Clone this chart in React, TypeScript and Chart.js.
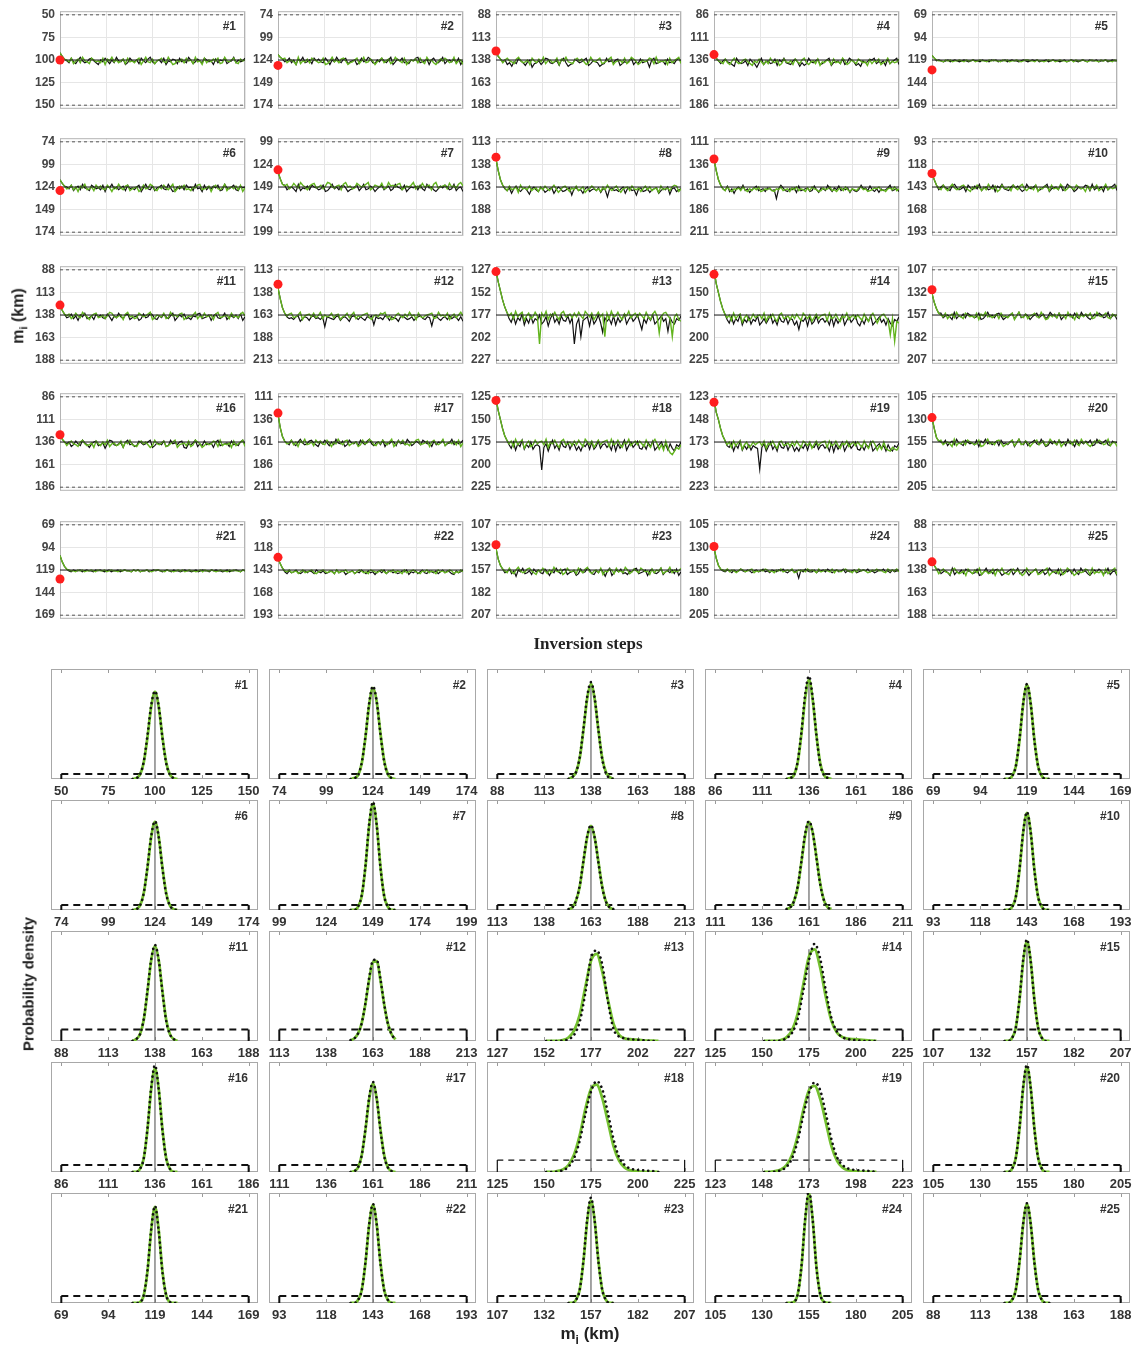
import React, { useEffect, useRef } from "react";
import { Chart, registerables } from "chart.js";

Chart.register(...registerables);

const SANS = "'Liberation Sans', Arial, sans-serif";
const SERIF = "'Liberation Serif', 'Times New Roman', serif";

// ---- model parameters (km) ----
const TRUE_DEPTH = [100, 124, 138, 136, 119, 124, 149, 163, 161, 143, 138, 163, 177, 175, 157, 136, 161, 175, 173, 155, 119, 143, 157, 155, 138];
const RANGE_LO = [50, 74, 88, 86, 69, 74, 99, 113, 111, 93, 88, 113, 127, 125, 107, 86, 111, 125, 123, 105, 69, 93, 107, 105, 88];
const RANGE_SPAN = 100;
const TICK_STEP = 25;
const INIT_DEPTH = [100, 130, 128, 130, 130, 128, 130, 130, 130, 128, 127, 129, 129, 130, 129, 128, 129, 129, 129, 128, 129, 129, 129, 129, 129];

// ---- chain traces ----
const BURN_IN: number[][] = [
  [92, 96, 99], [118, 121, 123], [130, 134, 137], [130, 134, 137], [114, 117],
  [116, 120, 123], [132, 140, 146], [132, 145, 155, 161], [130, 143, 153, 159], [128, 135, 141],
  [128, 133, 137], [133, 145, 155, 161], [128, 140, 150, 160, 168, 174], [125, 140, 150, 160, 168, 174], [133, 143, 150, 155],
  [128, 133, 136], [130, 145, 155, 160], [127, 140, 150, 160, 168, 173], [125, 140, 148, 158, 166, 171], [128, 140, 150, 154],
  [103, 110, 115, 118], [130, 136, 141], [133, 145, 152, 156], [130, 142, 150, 154], [128, 133, 137],
];
const MEAN_BLACK = [101, 125, 140, 138, 120, 125, 150, 165, 163, 144, 140, 165, 181, 180, 158, 138, 162, 178, 177, 156, 120, 145, 159, 156, 140];
const MEAN_GREEN = [101, 125, 139, 138, 120, 125, 148, 165, 164, 144, 139, 164, 179, 179, 158, 138, 162, 178, 177, 156, 120, 145, 158, 156, 140];

// deviation from the chain mean, one letter per step: 'k' = 0 km, 'j' = -1, 'l' = +1, ...
const NOISE_BLACK = [
  "kmhlnjgkml ihkmojlhkn jmgkliomhk ljnhkmigln kjmhoklijn hlkmgjnlik mhjlkoimjk hnlkgmjlkh",
  "lkhmjoikgm ljnhkilmhk ojlgkmihnl kjomhlkgim njlhkmjgol ikhmlnjkhg mlkiojhlmk gnkjlimhok",
  "kinlpkmgjl okiqmljnkg hlmkjoiglp nmhjlkigom jklpnmgkjl ihomkljgnk mhlkjqigml kjnhlkmigk",
  "mjhklnpgkm ljohkmqlgn kjmlhoikgl mnjhkplomg kljhnmkigo lkjmhnlgik ompjlkhigm kljohmkign",
  "kjklkjlkjk lkjklkjkkl jkkljkjlkk jlkjkklkjk lkjkjlkkjl kjkklkjlkj kklkjkljkk jlkkjlkjkk",
  "jlhnkimgkl nhjlkmhoik gljmkinhlk mjhokglmin kjhlmgkonj limhkjnglk ohmjlikhnm gkljhmnikj",
  "hmkjlognkl imhjkmlhon kgljmihkom ljhnkgmlik oljhmkinlg jkmholjkim hlngkjmoli khjmlgnkjo",
  "kmjpkhlnkj mqkilnjkom kjpliknmkj rkjmlpkinl kmjokltkjm lnkipkjmlr kjnmkolkjp mkliqkjnlk",
  "kmhnkpkilg mkoljhmlkn jkmlvkgjmn kljohmlkjn mhlojkmgkn jlhmkljokm nlgkjmhlnk okmljgmlkn",
  "mjhklnigkm ljohkmilgn kjmlhoikgl mnjhkilomg kljhnmkigo lkjmhnlgik omjlkhingm kljohmkign",
  "lkhmjoikgm ljnhkilmhk ojlgkmihnl kjomhlkgim njlhkmjgol ikhmlnjkhg mlkiojhlmk gnkjlimhok",
  "kmlnkjpmkl okjmlnkvkl mnkjolkmpk jlnkmokljt kmlnjkoklm pkjlnmkolk jmnklukjmo lknjmklokp",
  "kohqjmfrkp hpkmgqnisk fokqhmnhpj MqkEmkisgq mgozjnkqhr jokfqlhnkg owkpimgqnk hnkyjoqkmh",
  "kohpjmfqkn hpkmgqnjok fokqhmnhpj kqmvkmirhp mgokjnkqhr jokfqlhnkg orkpimgqnk hnkqjorkmh",
  "hmkjlognkl imhjkmlhon kgljmihkom ljhnkgmlik oljhmkinlg jkmholjkim hlngkjmoli khjmlgnkjo",
  "kinlhkmgjl okihmljpkg hlmkjoiglk nmhjlkigom jklhnmgkjl ihopkljgnk mhlkjoigml kjnhlkmigk",
  "kmhlnjgkml ihkmojlhkn jmgkliomhk ljnhkmigln kjmhoklijn hlkmgjnlik mhjlkoimjk hnlkgmjlkh",
  "kohqjmfpkn hplkmMnjrk fokqhmnhpj kqmrkmiphp mgokjnkqhr jokfqlhnkg opkpimgqnk hnkqjorkmh",
  "kmhqjnfpko jpkmnKmiql gokqhmnhpj kqmqkniphl mhokjnkqhr jokgqlhnkg opkpjmgqnk inkqjoqkmh",
  "jlhnkimgkl nhjlkmhoik gljmkinhlk mjhokglmin kjhlmgkonj limhkjnglk ohmjlikhnm gkljhmnikj",
  "kljkkjlkjk kljkjklkjl kkjlkjkklj kjlkkjlkjk jklkjkljkk lkjkklkjlk jkkljkjkkl kjlkkjkljk",
  "kmjlkilmkj ljkmikljml kjmilkjnlk jmklikmjlk nkjlimkjlk mljkinkljm kilmjkljmk iljkmnjlki",
  "lkhmjpikgm ljnhkilmhk ojlgkmihnl kjomhlkgim njlhkpjgol ikhmlnjkhg mlkiojhlmk gnkjlimhok",
  "kljkmjlkik ljkmkjlkil kmjkljkilm kjlksjlikl ljmkkjlikm kjlkimklkj mlkjkilkml jkilkmjlkk",
  "hmkjlognkl imhjkmlhon kgljmihkom ljhnkgmlik oljhmkinlg jkmholjkim hlngkjmoli khjmlgnkjo",
];
const NOISE_GREEN = [
  "jlhnkimgkl nhjlkmhoik gljmkinhlk mjhokglmin kjhlmgkonj limhkjnglk ohmjlikhnm gkljhmnikj",
  "hmkjlognkl imhjkmlhon kgljmihkom ljhnkgmlik oljhmkinlg jkmholjkim hlngkjmoli khjmlgnkjo",
  "mjhklnigkm ljohkmilgn kjmlhoikgl mnjhkilomg kljhnmkigo lkjmhnlgik omjlkhingm kljohmkign",
  "kmhlnjgkml ihkmojlhkn jmgkliomhk ljnhkmigln kjmhoklijn hlkmgjnlik mhjlkoimjk hnlkgmjlkh",
  "jkkljkjlkk jkljkkjlkj kkljkjkklj kjlkkjklkj jkkljkklkj kjlkjkklkj ljkkjklkjk kljkjkkljk",
  "lkhmjoikgm ljnhkilmhk ojlgkmihnl kjomhlkgim njlhkmjgol ikhmlnjkhg mlkiojhlmk gnkjlimhok",
  "kinlhkmgjl okihmljnkg hlmkjoiglk nmhjlkigom jklhnmgkjl ihomkljgnk mhlkjoigml kjnhlkmigk",
  "jmhlkiogkj lhmkjnilhk mjgkolihkn jlhmkiolkh jmknilgkmj hlokjimhkl jnkhlimkjo hlkjmighnk",
  "jlhkmjkilh kmjlikhmlj kilmjkhlkj mikhljkmil hjkmlikjhl kmjilhkmjk lihkjmlkij hlkmjikhlj",
  "kmhlnjgkml ihkmojlhkn jmgkliomhk ljnhkmigln kjmhoklijn hlkmgjnlik mhjlkoimjk hnlkgmjlkh",
  "kinlhkmgjl okihmljnkg hlmkjoiglk nmhjlkigom jklhnmgkjl ihomkljgnk mhlkjoigml kjnhlkmigk",
  "kihmljgokj ilhmkgnjlk hmjiolkhmj gnkljihmok jlhigmkonj hkmilgkjoh lmkjihnmgk jlhokimjgk",
  "jgmekhfojg mkfjOgkenh jfkngekjhl gkfjmehkgn jfkhGgmekj fknhjeligk gjmfknhejC kgfjmGkhnp",
  "jgmekhfojg mkfjhgkenh jfkngekjhl gkfjmehkgn jfkhgfmekj fknhjeligk gjmfknhejp kgfjmCkJnp",
  "jlhnkimgkl nhjlkmhoik gljmkinhlk mjhokglmin kjhlmgkonj limhkjnglk ohmjlikhnm gkljhmnikj",
  "mjhklnigkm ljohkmilgn kjmlhoikgl mnjhkilomg kljhnmkigo lkjmhnlgik omjlkhingm kljohmkign",
  "lkhmjoikgm ljnhkilmhk ojlgkmihnl kjomhlkgim njlhkmjgol ikhmlnjkhg mlkiojhlmk gnkjlimhok",
  "jgmekhfojg mkfjhgkenh jfkngekjhl gkfjmehkgn jfkhgfmekj fknhjeligk gjmfknhejp kqgotvrnpk",
  "jgmfkhfojg mkgjhgkfnh jfkngfkjhl gkfjmfhkgn jfkhgfmfkj fknhjfligk gjmfknhfjp kognpqmopl",
  "hmkjlognkl imhjkmlhon kgljmihkom ljhnkgmlik oljhmkinlg jkmholjkim hlngkjmoli khjmlgnkjo",
  "jkkljkjlkk jkljkkjlkj kkljkjkklj kjlkkjklkj jkkljkklkj kjlkjkklkj ljkkjklkjk kljkjkkljk",
  "jkilkjmkil kjilmkjikl jkmiljkilk jmkijlkmij kljikmjkil jkmilkjikl mjkiljkmik jlkijmklik",
  "kmhlnjgkml ihkmojlhkn jmgkliomhk ljnhkmigln kjmhoklijn hlkmgjnlik mhjlkoimjk hnlkgmjlkh",
  "jkiljkmkij lkjimkljki jlkmjkilkj kimljkjlik jkmilkjkli mjkljikkmj likjkmljki kjlmikjkil",
  "mjhklnigkm ljohkmilgn kjmlhoikgl mnjhkilomg kljhnmkigo lkjmhnlgik omjlkhingm kljohmkign",
];

// ---- posterior densities ----
const PRIOR_DENSITY = 0.01;
const PDF_PEAK = [0.174, 0.182, 0.19, 0.198, 0.188, 0.176, 0.212, 0.168, 0.176, 0.194, 0.083, 0.071, 0.076, 0.08, 0.087, 0.148, 0.126, 0.073, 0.072, 0.15, 0.137, 0.14, 0.146, 0.156, 0.141];
const PDF_YMAX = [0.22, 0.22, 0.22, 0.22, 0.22, 0.22, 0.22, 0.22, 0.22, 0.22, 0.096, 0.096, 0.096, 0.096, 0.096, 0.157, 0.157, 0.092, 0.092, 0.157, 0.157, 0.157, 0.157, 0.157, 0.157];
const PDF_GRID_NARROW = [-12, -10, -8, -6, -4, -2, 0, 2, 4, 6, 8, 10, 12];
const PDF_GRID_WIDE = [-24, -21, -18, -15, -12, -9, -6, -3, 0, 3, 6, 9, 12, 15, 18, 21, 24, 27, 30, 33, 36];
const PDF_WIDE_PANELS = [13, 14, 18, 19];
// density in percent of PDF_PEAK at TRUE_DEPTH + grid offset
const PDF_GREEN: number[][] = [
  [0, 1, 5, 19, 48, 83, 100, 83, 48, 19, 5, 1, 0],
  [0, 1, 4, 17, 46, 82, 100, 85, 50, 20, 5, 1, 0],
  [0, 2, 7, 22, 52, 85, 100, 84, 51, 22, 7, 2, 0],
  [0, 1, 4, 17, 46, 82, 100, 80, 44, 16, 4, 1, 0],
  [0, 0, 3, 13, 41, 80, 100, 80, 41, 13, 3, 0, 0],
  [0, 1, 5, 19, 48, 83, 100, 83, 48, 19, 5, 1, 0],
  [0, 0, 3, 13, 41, 80, 100, 80, 41, 13, 3, 0, 0],
  [1, 3, 11, 28, 58, 87, 100, 86, 57, 28, 10, 3, 1],
  [1, 3, 10, 26, 55, 85, 100, 88, 60, 30, 11, 3, 1],
  [0, 0, 3, 13, 41, 80, 100, 80, 41, 13, 3, 0, 0],
  [0, 2, 7, 22, 52, 85, 100, 85, 52, 22, 7, 2, 0],
  [1, 3, 9, 22, 46, 76, 97, 98, 75, 45, 21, 8, 2],
  [0, 0, 0, 1, 4, 12, 30, 62, 92, 100, 80, 48, 20, 7, 3, 2, 1.5, 1, 0.5, 0.3, 0],
  [0, 0, 0, 1, 4, 12, 30, 62, 92, 100, 80, 48, 22, 9, 4, 2.5, 2, 1.5, 1, 0.5, 0],
  [0, 0, 3, 13, 41, 80, 100, 80, 41, 13, 3, 0, 0],
  [0, 0, 3, 13, 41, 80, 100, 80, 41, 13, 3, 0, 0],
  [0, 1, 5, 19, 48, 83, 100, 83, 48, 19, 5, 1, 0],
  [0, 0, 1, 3, 8, 20, 42, 72, 95, 100, 85, 58, 30, 13, 5, 2, 1, 0, 0, 0, 0],
  [0, 0, 1, 3, 8, 20, 42, 72, 95, 100, 85, 58, 30, 13, 5, 2, 1, 0, 0, 0, 0],
  [0, 0, 3, 13, 41, 80, 100, 80, 41, 13, 3, 0, 0],
  [0, 0, 1, 8, 33, 76, 100, 76, 33, 8, 1, 0, 0],
  [0, 0, 3, 13, 41, 80, 100, 80, 41, 13, 3, 0, 0],
  [0, 0, 3, 13, 41, 80, 100, 80, 41, 13, 3, 0, 0],
  [0, 0, 1, 8, 33, 76, 100, 76, 33, 8, 1, 0, 0],
  [0, 0, 3, 13, 41, 80, 100, 80, 41, 13, 3, 0, 0],
];
const PDF_BLACK: number[][] = [
  [0, 1, 5, 20, 50, 85, 101, 84, 47, 18, 5, 1, 0],
  [0, 1, 4, 18, 47, 84, 102, 85, 49, 19, 5, 1, 0],
  [0, 2, 7, 23, 53, 87, 102, 85, 51, 21, 6, 1, 0],
  [0, 1, 4, 18, 48, 86, 104, 82, 44, 15, 4, 1, 0],
  [0, 0, 3, 13, 42, 81, 101, 80, 40, 13, 3, 0, 0],
  [0, 1, 5, 19, 49, 84, 101, 83, 47, 18, 5, 1, 0],
  [0, 0, 3, 14, 42, 82, 102, 80, 40, 13, 3, 0, 0],
  [1, 3, 11, 29, 59, 88, 101, 86, 56, 27, 10, 3, 1],
  [1, 3, 10, 27, 56, 87, 101, 88, 59, 29, 11, 3, 1],
  [0, 0, 3, 13, 42, 81, 101, 80, 40, 13, 3, 0, 0],
  [0, 2, 7, 23, 53, 86, 101, 85, 51, 21, 7, 2, 0],
  [1, 3, 9, 22, 47, 78, 99, 100, 76, 45, 21, 8, 2],
  [0, 0, 0, 0.5, 2, 7, 22, 55, 95, 104, 88, 46, 14, 5, 3, 2, 1.5, 1, 0.5, 0, 0],
  [0, 0, 0, 0.5, 3, 9, 24, 55, 88, 106, 90, 55, 25, 10, 4, 2, 1, 0.5, 0, 0, 0],
  [0, 0, 3, 13, 42, 82, 102, 80, 40, 13, 3, 0, 0],
  [0, 0, 3, 13, 42, 82, 103, 80, 40, 13, 3, 0, 0],
  [0, 1, 5, 19, 49, 85, 102, 83, 47, 18, 5, 1, 0],
  [0, 0, 0.5, 2, 6, 16, 36, 66, 92, 104, 95, 68, 38, 17, 8, 4, 2.5, 2, 1.5, 1, 0],
  [0, 0, 0.5, 2, 6, 16, 36, 66, 92, 104, 95, 68, 38, 17, 8, 4, 2.5, 2, 1.5, 1, 0],
  [0, 0, 3, 13, 42, 82, 102, 80, 40, 13, 3, 0, 0],
  [0, 0, 1, 8, 34, 77, 101, 75, 32, 8, 1, 0, 0],
  [0, 0, 3, 13, 42, 81, 101, 80, 40, 13, 3, 0, 0],
  [0, 0, 3, 13, 42, 82, 103, 80, 40, 13, 3, 0, 0],
  [0, 0, 1, 8, 34, 78, 103, 76, 32, 8, 1, 0, 0],
  [0, 0, 3, 13, 42, 81, 101, 80, 40, 13, 3, 0, 0],
];

const TRACE_GREEN = "#62b41e";
const PDF_GREEN_COLOR = "#74c030";
const RED = "#ff1e1e";

const ALPHABET = "abcdefghijklmnopqrstuvwxyzABCDEFGHIJKLMNOPQRSTUVWXYZ";
function decode(s: string): number[] {
  return s.replace(/\s/g, "").split("").map((ch) => ALPHABET.indexOf(ch) - 10);
}

function rangeTicks(lo: number) {
  const t: { value: number }[] = [];
  for (let v = lo; v <= lo + RANGE_SPAN; v += TICK_STEP) t.push({ value: v });
  return t;
}

function framePlugin(label: string, boxColor: string, labelDx: number, labelDy: number, innerTicks: number[] | null) {
  return {
    id: "frame",
    beforeDatasetsDraw(chart: any) {
      const { ctx, chartArea } = chart;
      const { left, top, right, bottom } = chartArea;
      ctx.save();
      ctx.strokeStyle = boxColor;
      ctx.lineWidth = 1;
      ctx.strokeRect(left + 0.5, top + 0.5, right - left - 1, bottom - top - 1);
      if (innerTicks) {
        const xs = chart.scales.x;
        ctx.strokeStyle = "#9a9a9a";
        innerTicks.forEach((v) => {
          const px = Math.round(xs.getPixelForValue(v)) + 0.5;
          ctx.beginPath();
          ctx.moveTo(px, top + 1);
          ctx.lineTo(px, top + 4);
          ctx.moveTo(px, bottom - 1);
          ctx.lineTo(px, bottom - 4);
          ctx.stroke();
        });
      }
      ctx.restore();
    },
    afterDraw(chart: any) {
      const { ctx, chartArea } = chart;
      ctx.save();
      ctx.fillStyle = "#333";
      ctx.font = `bold 12px ${SANS}`;
      ctx.textAlign = "right";
      ctx.textBaseline = "middle";
      ctx.fillText(label, chartArea.right - labelDx, chartArea.top + labelDy);
      ctx.restore();
    },
  };
}

function TracePanel({ i }: { i: number }) {
  const ref = useRef<HTMLCanvasElement>(null);
  const col = i % 5;
  const row = Math.floor(i / 5);
  const boxL = 60 + 218 * col;
  const boxT = Math.floor(7 + 127.5 * row);
  const padL = 46, padR = 8, padT = 8, padB = 8;
  const W = 185 + padL + padR;
  const H = 106 + padT + padB;

  useEffect(() => {
    const lo = RANGE_LO[i];
    const hi = lo + RANGE_SPAN;
    const series = (mean: number, noise: string) =>
      [...BURN_IN[i], ...decode(noise).map((d) => mean + d)].map((y, x) => ({ x, y }));
    const black = series(MEAN_BLACK[i], NOISE_BLACK[i]);
    const green = series(MEAN_GREEN[i], NOISE_GREEN[i]);
    const last = Math.max(black.length, green.length) - 1;
    const line = (data: any[], color: string, width: number, order: number, dash: number[] = []) => ({
      data, borderColor: color, borderWidth: width, pointRadius: 0, borderDash: dash, order, tension: 0,
    });
    const chart = new Chart(ref.current as HTMLCanvasElement, {
      type: "line",
      data: {
        datasets: [
          {
            data: [{ x: 0, y: INIT_DEPTH[i] }], showLine: false, pointRadius: 4.5,
            pointBackgroundColor: RED, pointBorderWidth: 0, clip: false, order: 0,
          } as any,
          line([{ x: 0, y: TRUE_DEPTH[i] }, { x: last, y: TRUE_DEPTH[i] }], "#1c1c1c", 1, 1),
          line(green, TRACE_GREEN, 1.4, 2),
          line(black, "#111111", 1.2, 3),
          line([{ x: 0, y: lo }, { x: last, y: lo }], "#555", 1, 4, [3, 3]),
          line([{ x: 0, y: hi }, { x: last, y: hi }], "#555", 1, 4, [3, 3]),
        ],
      },
      options: {
        animation: false,
        responsive: false,
        devicePixelRatio: 1,
        events: [],
        layout: { padding: { left: 0, right: padR, top: padT, bottom: padB } },
        plugins: { legend: { display: false }, tooltip: { enabled: false } },
        scales: {
          x: {
            type: "linear", min: 0, max: last,
            afterBuildTicks: (s: any) => { s.ticks = [0, 1, 2, 3, 4].map((k) => ({ value: (last * k) / 4 })); },
            afterFit: (s: any) => { s.height = 0; },
            ticks: { display: false },
            grid: { color: "#e6e6e6", drawTicks: false },
            border: { display: false },
          },
          y: {
            type: "linear", reverse: true, min: lo - 4, max: hi + 4,
            afterBuildTicks: (s: any) => { s.ticks = rangeTicks(lo); },
            afterFit: (s: any) => { s.width = padL; },
            ticks: { font: { family: SANS, size: 12, weight: "bold" }, color: "#444", padding: 5 },
            grid: { color: "#e6e6e6", drawTicks: false },
            border: { display: false },
          },
        },
      } as any,
      plugins: [framePlugin(`#${i + 1}`, "#b4b4b4", 9, 15, null)],
    });
    return () => chart.destroy();
  }, [i]);

  return (
    <canvas ref={ref} width={W} height={H}
      style={{ position: "absolute", left: boxL - padL, top: boxT - padT, width: W, height: H }} />
  );
}

function PdfPanel({ i }: { i: number }) {
  const ref = useRef<HTMLCanvasElement>(null);
  const col = i % 5;
  const row = Math.floor(i / 5);
  const boxL = 51 + 218 * col;
  const boxT = 669 + 131 * row;
  const padL = 20, padR = 20, padT = 4, padB = 8, axisH = 22;
  const W = 207 + padL + padR;
  const H = 110 + padT + axisH + padB;

  useEffect(() => {
    const lo = RANGE_LO[i];
    const hi = lo + RANGE_SPAN;
    const mid = TRUE_DEPTH[i];
    const peak = PDF_PEAK[i];
    const grid = PDF_WIDE_PANELS.includes(i + 1) ? PDF_GRID_WIDE : PDF_GRID_NARROW;
    const curve = (vals: number[]) => grid.map((o, k) => ({ x: mid + o, y: (peak * vals[k]) / 100 }));
    const thinPrior = i + 1 === 18 || i + 1 === 19;
    const priorW = thinPrior ? 1.2 : 2;
    const chart = new Chart(ref.current as HTMLCanvasElement, {
      type: "line",
      data: {
        datasets: [
          {
            data: curve(PDF_BLACK[i]), borderColor: "#111", borderWidth: 2.6, borderDash: [0.1, 5],
            borderCapStyle: "round", pointRadius: 0, cubicInterpolationMode: "monotone", order: 0,
          },
          {
            data: curve(PDF_GREEN[i]), borderColor: PDF_GREEN_COLOR, borderWidth: 2.8,
            pointRadius: 0, cubicInterpolationMode: "monotone", order: 1,
          },
          { data: [{ x: mid, y: 0 }, { x: mid, y: peak }], borderColor: "#666", borderWidth: 1.2, pointRadius: 0, order: 2 },
          {
            data: [{ x: lo, y: PRIOR_DENSITY }, { x: hi, y: PRIOR_DENSITY }], borderColor: "#111",
            borderWidth: priorW, borderDash: thinPrior ? [6, 5] : [7, 5], pointRadius: 0, order: 3,
          },
          { data: [{ x: lo, y: 0 }, { x: lo, y: PRIOR_DENSITY }], borderColor: "#111", borderWidth: priorW, pointRadius: 0, order: 3 },
          { data: [{ x: hi, y: 0 }, { x: hi, y: PRIOR_DENSITY }], borderColor: "#111", borderWidth: priorW, pointRadius: 0, order: 3 },
        ] as any,
      },
      options: {
        animation: false,
        responsive: false,
        devicePixelRatio: 1,
        events: [],
        layout: { padding: { left: padL, right: padR, top: padT, bottom: padB } },
        plugins: { legend: { display: false }, tooltip: { enabled: false } },
        scales: {
          x: {
            type: "linear", min: lo - 5.5, max: hi + 5,
            afterBuildTicks: (s: any) => { s.ticks = rangeTicks(lo); },
            afterFit: (s: any) => { s.height = axisH; },
            ticks: { font: { family: SANS, size: 13, weight: "bold" }, color: "#333", padding: 5, maxRotation: 0 },
            grid: { display: false, drawTicks: false },
            border: { display: false },
          },
          y: { type: "linear", display: false, min: 0, max: PDF_YMAX[i] },
        },
      } as any,
      plugins: [framePlugin(`#${i + 1}`, "#a8a8a8", 10, 17, rangeTicks(lo).map((t) => t.value))],
    });
    return () => chart.destroy();
  }, [i]);

  return (
    <canvas ref={ref} width={W} height={H}
      style={{ position: "absolute", left: boxL - padL, top: boxT - padT, width: W, height: H }} />
  );
}

const titleStyle = (cx: number, cy: number, font: string, rotate = false): React.CSSProperties => ({
  position: "absolute",
  left: cx,
  top: cy,
  transform: `translate(-50%, -50%)${rotate ? " rotate(-90deg)" : ""}`,
  whiteSpace: "nowrap",
  font,
  color: "#222",
  lineHeight: 1,
});

export default function App() {
  useEffect(() => {
    document.body.style.margin = "0";
  }, []);
  const idx = Array.from({ length: 25 }, (_, k) => k);
  return (
    <div style={{ position: "relative", width: 1139, height: 1351, background: "#fff", overflow: "hidden" }}>
      {idx.map((k) => <TracePanel key={`t${k}`} i={k} />)}
      {idx.map((k) => <PdfPanel key={`p${k}`} i={k} />)}
      <div style={titleStyle(20, 316, `bold 16px ${SANS}`, true)}>
        m<sub style={{ fontSize: "0.7em" }}>i</sub> (km)
      </div>
      <div style={titleStyle(588, 643, `bold 17px ${SERIF}`)}>Inversion steps</div>
      <div style={titleStyle(28, 984, `bold 15px ${SANS}`, true)}>Probability density</div>
      <div style={titleStyle(590, 1336, `bold 17px ${SANS}`)}>
        m<sub style={{ fontSize: "0.7em" }}>i</sub> (km)
      </div>
    </div>
  );
}
